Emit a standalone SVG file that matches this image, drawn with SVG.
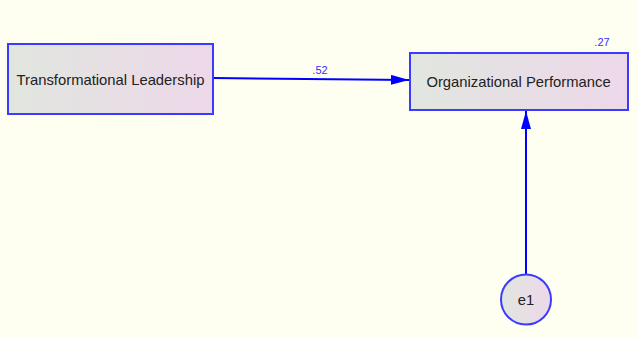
<svg xmlns="http://www.w3.org/2000/svg" width="638" height="338" viewBox="0 0 638 338">
<defs>
<linearGradient id="g" x1="0" y1="0" x2="1" y2="0">
<stop offset="0" stop-color="#E1E6DF"/>
<stop offset="1" stop-color="#EDD8EA"/>
</linearGradient>
<marker id="ah" viewBox="0 0 18 10" refX="18" refY="5" markerWidth="18" markerHeight="10" markerUnits="userSpaceOnUse" orient="auto">
<path d="M0,0 L18,5 L0,10 z" fill="#0000FF"/>
</marker>
<style>
.box{fill:url(#g);stroke:#3B3BFF;stroke-width:2}
.lbl{font-family:"Liberation Sans",Arial,sans-serif;font-size:14.8px;fill:#222;text-anchor:middle}
.num{font-family:"Liberation Sans",Arial,sans-serif;font-size:11px;fill:#3030FF;text-anchor:middle}
.conn{stroke:#0000FF;stroke-width:2;fill:none}
</style>
</defs>
<rect width="638" height="338" fill="#FEFFF0"/>
<g id="connectors">
<line class="conn" x1="213" y1="78" x2="409" y2="80" marker-end="url(#ah)"/>
<line class="conn" x1="526" y1="274" x2="526" y2="111" marker-end="url(#ah)"/>
<text class="num" x="320" y="74">.52</text>
</g>
<g id="tl">
<rect class="box" x="8" y="44" width="205" height="70"/>
<text class="lbl" x="110.5" y="85">Transformational Leadership</text>
</g>
<g id="op">
<rect class="box" x="410" y="53" width="218" height="57"/>
<text class="lbl" x="518.5" y="87">Organizational Performance</text>
<text class="num" x="602" y="46">.27</text>
</g>
<g id="e1">
<circle class="box" cx="526" cy="299.5" r="25"/>
<text class="lbl" x="526" y="304.5">e1</text>
</g>
</svg>
